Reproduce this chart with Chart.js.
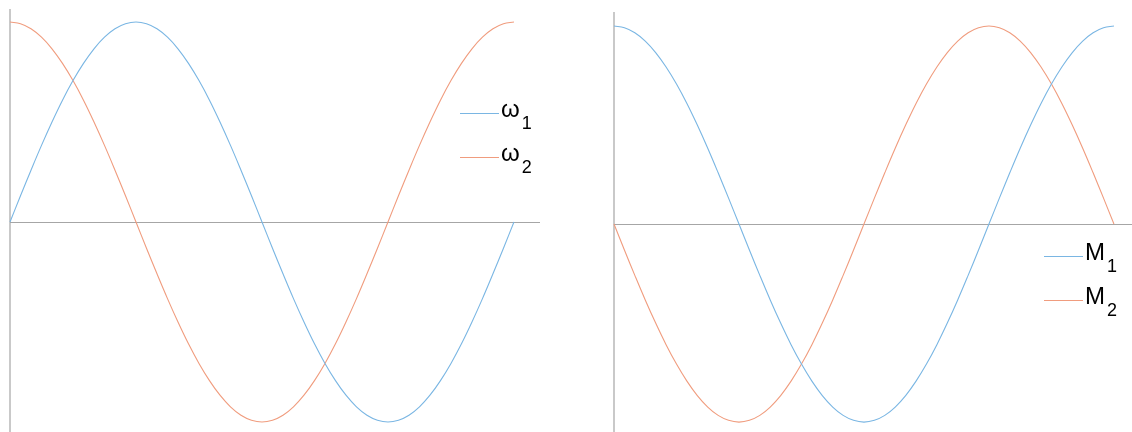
<!DOCTYPE html>
<html>
<head>
<meta charset="utf-8">
<script src="https://cdn.jsdelivr.net/npm/chart.js@4"></script>
<style>
  html, body { margin: 0; padding: 0; background: #fff; }
  #wrap { position: relative; width: 1132px; height: 432px; overflow: hidden; }
  .panel { position: absolute; top: 0; width: 566px; height: 432px; }
  .legend { position: absolute; font-family: "Liberation Sans", Arial, sans-serif; color: #000; }
  .row { position: absolute; height: 40px; display: flex; align-items: center; white-space: nowrap; }
  .swatch { width: 39px; height: 1px; }
  .lbl { font-size: 24px; line-height: 1; position: relative; top: -4px; }
  .lbl span { font-size: 18px; position: relative; top: 12px; margin-left: 2px; }
</style>
</head>
<body>
<div id="wrap">
  <div class="panel" style="left:0"><canvas id="chartLeft"></canvas></div>
  <div class="panel" style="left:566px"><canvas id="chartRight"></canvas></div>
  <div class="legend" id="legendLeft"></div>
  <div class="legend" id="legendRight"></div>
</div>
<script>
// angle (degrees) of each sample
const angles = [0, 7.5, 15, 22.5, 30, 37.5, 45, 52.5, 60, 67.5, 75, 82.5, 90,
  97.5, 105, 112.5, 120, 127.5, 135, 142.5, 150, 157.5, 165, 172.5, 180,
  187.5, 195, 202.5, 210, 217.5, 225, 232.5, 240, 247.5, 255, 262.5, 270,
  277.5, 285, 292.5, 300, 307.5, 315, 322.5, 330, 337.5, 345, 352.5, 360];

// left panel
const omega1 = [0, 0.131, 0.259, 0.383, 0.5, 0.609, 0.707, 0.793, 0.866, 0.924, 0.966, 0.991, 1,
  0.991, 0.966, 0.924, 0.866, 0.793, 0.707, 0.609, 0.5, 0.383, 0.259, 0.131, 0,
  -0.131, -0.259, -0.383, -0.5, -0.609, -0.707, -0.793, -0.866, -0.924, -0.966, -0.991, -1,
  -0.991, -0.966, -0.924, -0.866, -0.793, -0.707, -0.609, -0.5, -0.383, -0.259, -0.131, 0];
const omega2 = [1, 0.991, 0.966, 0.924, 0.866, 0.793, 0.707, 0.609, 0.5, 0.383, 0.259, 0.131, 0,
  -0.131, -0.259, -0.383, -0.5, -0.609, -0.707, -0.793, -0.866, -0.924, -0.966, -0.991, -1,
  -0.991, -0.966, -0.924, -0.866, -0.793, -0.707, -0.609, -0.5, -0.383, -0.259, -0.131, 0,
  0.131, 0.259, 0.383, 0.5, 0.609, 0.707, 0.793, 0.866, 0.924, 0.966, 0.991, 1];

// right panel
const m1 = [1, 0.991, 0.966, 0.924, 0.866, 0.793, 0.707, 0.609, 0.5, 0.383, 0.259, 0.131, 0,
  -0.131, -0.259, -0.383, -0.5, -0.609, -0.707, -0.793, -0.866, -0.924, -0.966, -0.991, -1,
  -0.991, -0.966, -0.924, -0.866, -0.793, -0.707, -0.609, -0.5, -0.383, -0.259, -0.131, 0,
  0.131, 0.259, 0.383, 0.5, 0.609, 0.707, 0.793, 0.866, 0.924, 0.966, 0.991, 1];
const m2 = [0, -0.131, -0.259, -0.383, -0.5, -0.609, -0.707, -0.793, -0.866, -0.924, -0.966, -0.991, -1,
  -0.991, -0.966, -0.924, -0.866, -0.793, -0.707, -0.609, -0.5, -0.383, -0.259, -0.131, 0,
  0.131, 0.259, 0.383, 0.5, 0.609, 0.707, 0.793, 0.866, 0.924, 0.966, 0.991, 1,
  0.991, 0.966, 0.924, 0.866, 0.793, 0.707, 0.609, 0.5, 0.383, 0.259, 0.131, 0];

const BLUE = '#7ab6e3';
const ORANGE = '#f09c7e';

// axes through zero, drawn from the scales
const zeroAxes = {
  id: 'zeroAxes',
  beforeDatasetsDraw(chart) {
    const { ctx, chartArea, scales } = chart;
    const x0 = scales.x.getPixelForValue(0);
    const y0 = scales.y.getPixelForValue(0);
    ctx.save();
    ctx.strokeStyle = '#c9c9c9';
    ctx.lineWidth = 2;
    ctx.beginPath();
    ctx.moveTo(x0, chartArea.top);
    ctx.lineTo(x0, chartArea.bottom);
    ctx.stroke();
    ctx.strokeStyle = '#a6a6a6';
    ctx.lineWidth = 1;
    ctx.beginPath();
    ctx.moveTo(chartArea.left, Math.round(y0) + 0.5);
    ctx.lineTo(chartArea.right, Math.round(y0) + 0.5);
    ctx.stroke();
    ctx.restore();
  }
};

function makeChart(id, series, xMax, yMin, yMax, padding) {
  return new Chart(document.getElementById(id), {
    type: 'line',
    data: {
      labels: angles,
      datasets: series.map(s => ({
        label: s.label,
        data: s.values.map((v, i) => ({ x: angles[i], y: v })),
        borderColor: s.color,
        borderWidth: 1.1,
        pointRadius: 0,
        tension: 0.4,
        clip: false
      }))
    },
    options: {
      responsive: true,
      maintainAspectRatio: false,
      animation: false,
      layout: { padding: padding },
      plugins: { legend: { display: false }, tooltip: { enabled: false } },
      scales: {
        x: { type: 'linear', display: false, min: 0, max: xMax },
        y: { display: false, min: yMin, max: yMax }
      }
    },
    plugins: [zeroAxes]
  });
}

const leftSeries = [
  { label: 'ω|1', values: omega1, color: BLUE },
  { label: 'ω|2', values: omega2, color: ORANGE }
];
const rightSeries = [
  { label: 'M|1', values: m1, color: BLUE },
  { label: 'M|2', values: m2, color: ORANGE }
];

makeChart('chartLeft', leftSeries, 378.6, -1.05, 1.065, { left: 10, right: 26, top: 9, bottom: 0 });
makeChart('chartRight', rightSeries, 373, -1.05, 1.071, { left: 48, right: 0, top: 12, bottom: 0 });

// legend with subscripts
function buildLegend(elId, series, x, y, gap) {
  const el = document.getElementById(elId);
  series.forEach((s, i) => {
    const [main, sub] = s.label.split('|');
    const row = document.createElement('div');
    row.className = 'row';
    row.style.left = x + 'px';
    row.style.top = (y + i * gap - 20) + 'px';
    row.innerHTML = '<div class="swatch" style="background:' + s.color + '"></div>' +
      '<div class="lbl" style="margin-left:2px">' + main + '<span>' + sub + '</span></div>';
    el.appendChild(row);
  });
}
buildLegend('legendLeft', leftSeries, 460, 113, 44);
buildLegend('legendRight', rightSeries, 1044, 256, 44);
</script>
</body>
</html>
